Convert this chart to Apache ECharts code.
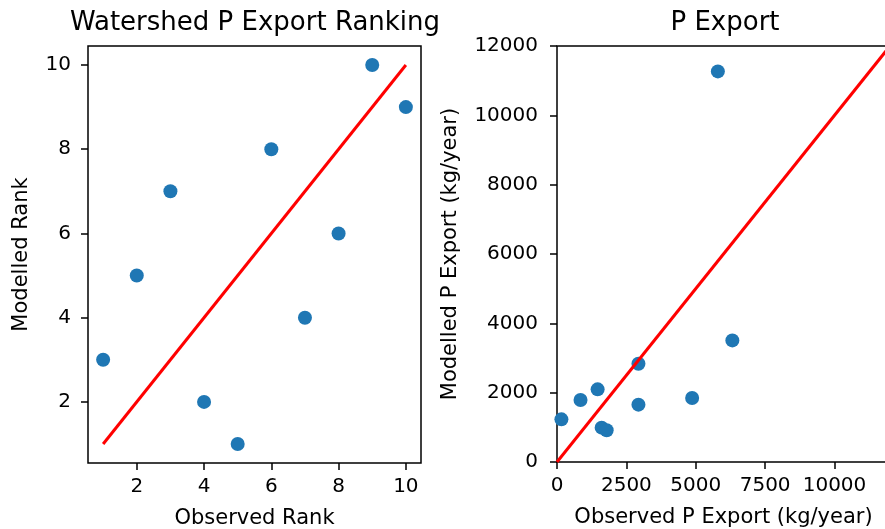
<!DOCTYPE html>
<html>
<head>
<meta charset="utf-8">
<script src="https://cdn.jsdelivr.net/npm/echarts@6/dist/echarts.min.js"></script>
<style>
  html, body { margin: 0; padding: 0; background: #fff; }
  #chart { width: 885px; height: 529px; }
</style>
</head>
<body>
<div id="chart"></div>
<script>
// Watershed ranking: observed vs modelled rank
const observedRank = [1, 2, 3, 4, 5, 6, 7, 8, 9, 10];
const modelledRank = [3, 5, 7, 2, 1, 8, 4, 6, 10, 9];
const rankTicks = [2, 4, 6, 8, 10];
const rankLine = [1, 10];

// Phosphorus export (kg/year): observed vs modelled
const observedExport = [159, 848, 1464, 1609, 1790, 2935, 2935, 4870, 6319, 5797];
const modelledExport = [1231, 1787, 2095, 991, 914, 2836, 1654, 1844, 3507, 11268];
const exportXTicks = [0, 2500, 5000, 7500, 10000];
const exportLine = [0, 12000];

const FONT = 'DejaVu Sans';
const INK = '#000';

function pairs(xs, ys) { return xs.map((x, i) => [x, ys[i]]); }
const plain = v => String(v);

const tickStyle = { show: true, inside: false, length: 7, lineStyle: { color: INK, width: 1.5 } };
const labelStyle = { color: INK, fontFamily: FONT, fontSize: 20, formatter: plain };
const nameStyle = { color: INK, fontFamily: FONT, fontSize: 21 };
const titleStyle = { fontFamily: FONT, fontSize: 26, fontWeight: 'normal', color: INK };
// fixed plot boxes: do not let the layout shrink them to fit labels
const box = { show: true, borderColor: INK, borderWidth: 1.5, backgroundColor: 'transparent',
              containLabel: false, outerBoundsMode: 'none' };

const chart = echarts.init(document.getElementById('chart'), null, { renderer: 'canvas' });

chart.setOption({
  animation: false,
  backgroundColor: '#fff',
  title: [
    { text: 'Watershed P Export Ranking', left: 250, top: 5, textAlign: 'center', textStyle: titleStyle },
    { text: 'P Export', left: 720, top: 5, textAlign: 'center', textStyle: titleStyle }
  ],
  grid: [
    Object.assign({ left: 88, top: 46, width: 333, height: 417 }, box),
    Object.assign({ left: 557, top: 46, width: 333, height: 416 }, box)
  ],
  xAxis: [
    { type: 'value', gridIndex: 0, min: 0.55, max: 10.45,
      name: 'Observed Rank', nameLocation: 'middle', nameGap: 45, nameTextStyle: nameStyle,
      axisLine: { show: false }, splitLine: { show: false },
      axisTick: Object.assign({ customValues: rankTicks }, tickStyle),
      axisLabel: Object.assign({ customValues: rankTicks, margin: 14 }, labelStyle) },
    { type: 'value', gridIndex: 1, min: 0, max: 12000,
      name: 'Observed P Export (kg/year)', nameLocation: 'middle', nameGap: 45, nameTextStyle: nameStyle,
      axisLine: { show: false }, splitLine: { show: false },
      axisTick: Object.assign({ customValues: exportXTicks }, tickStyle),
      axisLabel: Object.assign({ customValues: exportXTicks, margin: 14 }, labelStyle) }
  ],
  yAxis: [
    { type: 'value', gridIndex: 0, min: 0.55, max: 10.45,
      name: 'Modelled Rank', nameLocation: 'middle', nameGap: 56, nameTextStyle: nameStyle,
      axisLine: { show: false }, splitLine: { show: false },
      axisTick: Object.assign({ customValues: rankTicks }, tickStyle),
      axisLabel: Object.assign({ customValues: rankTicks, margin: 17 }, labelStyle) },
    { type: 'value', gridIndex: 1, min: 0, max: 12000, interval: 2000,
      name: 'Modelled P Export (kg/year)', nameLocation: 'middle', nameGap: 96, nameTextStyle: nameStyle,
      axisLine: { show: false }, splitLine: { show: false },
      axisTick: tickStyle,
      axisLabel: Object.assign({ margin: 19 }, labelStyle) }
  ],
  series: [
    { type: 'scatter', xAxisIndex: 0, yAxisIndex: 0, symbolSize: 14,
      itemStyle: { color: '#1f77b4', opacity: 1 }, data: pairs(observedRank, modelledRank), z: 2 },
    { type: 'line', xAxisIndex: 0, yAxisIndex: 0, symbol: 'none', silent: true,
      lineStyle: { color: '#ff0000', width: 3 }, data: pairs(rankLine, rankLine), z: 3 },
    { type: 'scatter', xAxisIndex: 1, yAxisIndex: 1, symbolSize: 14,
      itemStyle: { color: '#1f77b4', opacity: 1 }, data: pairs(observedExport, modelledExport), z: 2 },
    { type: 'line', xAxisIndex: 1, yAxisIndex: 1, symbol: 'none', silent: true,
      lineStyle: { color: '#ff0000', width: 3 }, data: pairs(exportLine, exportLine), z: 3 }
  ]
});
</script>
</body>
</html>
